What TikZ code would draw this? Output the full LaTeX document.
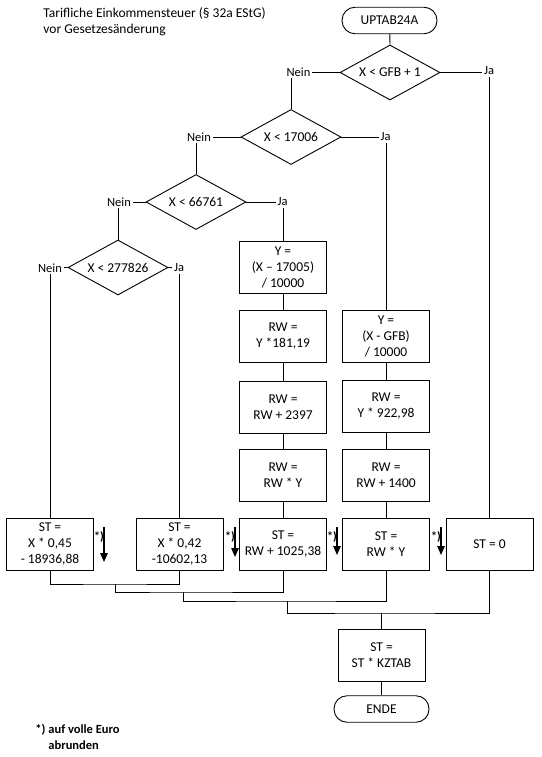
\documentclass[tikz,border=0pt]{standalone}
\usepackage{fontspec}
\setmainfont{Carlito}
\usetikzlibrary{shapes.geometric,arrows.meta}
\begin{document}
\begin{tikzpicture}[x=1pt,y=-1pt,line width=0.9pt,
  box/.style={draw,rectangle,minimum width=87pt,minimum height=52pt,inner sep=0pt,align=center,font=\fontsize{13.5}{16}\selectfont},
  term/.style={draw,rectangle,rounded corners=13pt,minimum width=95pt,minimum height=26.5pt,inner sep=0pt,font=\fontsize{13.5}{16}\selectfont},
  dec/.style={draw,diamond,aspect=1.82,minimum width=100pt,minimum height=55pt,inner sep=0pt,font=\fontsize{13.5}{16}\selectfont},
  lbl/.style={inner sep=1.5pt,font=\fontsize{12.5}{14}\selectfont},
  star/.style={inner sep=0pt,font=\fontsize{12}{13}\selectfont\bfseries},
  rarrow/.style={-{Triangle[length=9pt,width=7.5pt]},line width=1.1pt},
  txt/.style={inner sep=0pt,anchor=west,align=left,font=\fontsize{13.5}{16}\selectfont},
  fn/.style={inner sep=0pt,anchor=west,font=\fontsize{12.5}{15}\selectfont\bfseries}
]
\useasboundingbox (0,0) rectangle (541,757);

% title
\node[txt] (title) at (43,22) {Tarifliche Einkommensteuer (§ 32a EStG)\\vor Gesetzesänderung};

% terminals and decisions
\node[term] (start) at (389.5,20.5) {UPTAB24A};
\node[dec] (d1) at (390,72.5) {X < GFB + 1};
\node[dec] (d2) at (291,137) {X < 17006};
\node[dec] (d3) at (196,202) {X < 66761};
\node[dec] (d4) at (118,267.5) {X < 277826};

% labels
\node[lbl] (na1) at (298.5,72) {Nein};
\node[lbl] (ja1) at (489,71) {Ja};
\node[lbl] (na2) at (199,137) {Nein};
\node[lbl] (ja2) at (385.5,137) {Ja};
\node[lbl] (na3) at (119,202) {Nein};
\node[lbl] (ja3) at (282.5,202) {Ja};
\node[lbl] (na4) at (50,268) {Nein};
\node[lbl] (ja4) at (179,268) {Ja};

% process boxes
\node[box] (y1) at (283,267.5) {Y =\\(X – 17005)\\/ 10000};
\node[box] (rw1) at (283,336.5) {RW =\\Y *181,19};
\node[box] (rw2) at (283,407) {RW =\\RW + 2397};
\node[box] (rw3) at (283,475) {RW =\\RW * Y};
\node[box] (y2) at (386,336.5) {Y =\\(X - GFB)\\/ 10000};
\node[box] (rw4) at (386,406) {RW =\\Y * 922,98};
\node[box] (rw5) at (386,475) {RW =\\RW + 1400};

\node[box] (st1) at (50,544) {ST =\\X * 0,45\\- 18936,88};
\node[box] (st2) at (179.5,544) {ST =\\X * 0,42\\-10602,13};
\node[box] (st3) at (283,544) {ST =\\RW + 1025,38};
\node[box] (st4) at (386,544) {ST =\\RW * Y};
\node[box] (st5) at (489.5,544) {ST = 0};

\node[box] (kz) at (381.5,655) {ST =\\ST * KZTAB};
\node[term] (ende) at (381.5,709) {ENDE};

% rounding marks
\node[star] (s1) at (99,537) {*)};
\node[star] (s2) at (230,537) {*)};
\node[star] (s3) at (332,537) {*)};
\node[star] (s4) at (436,537) {*)};
\coordinate (a1t) at (104,527); \coordinate (a1b) at (104,562);
\coordinate (a2t) at (235,527); \coordinate (a2b) at (235,557);
\coordinate (a3t) at (337,527); \coordinate (a3b) at (337,555);
\coordinate (a4t) at (441,527); \coordinate (a4b) at (441,555);
\draw[rarrow] (a1t) -- (a1b);
\draw[rarrow] (a2t) -- (a2b);
\draw[rarrow] (a3t) -- (a3b);
\draw[rarrow] (a4t) -- (a4b);

% footnote
\node[fn] (fn1) at (35,730) {*) auf volle Euro};
\node[fn] (fn2) at (48,745) {abrunden};

% connectors
\draw (start) -- (d1.north);
\draw (d1.west) -- (d1.west -| na1.east);
\draw (na1.south -| d2.north) -- (d2.north);
\draw (d1.east) -- (d1.east -| ja1.west);
\draw (ja1.south -| st5.north) -- (st5.north);

\draw (d2.west) -- (d2.west -| na2.east);
\draw (na2.south -| d3.north) -- (d3.north);
\draw (d2.east) -- (d2.east -| ja2.west);
\draw (ja2.south -| y2.north) -- (y2.north);

\draw (d3.west) -- (d3.west -| na3.east);
\draw (na3.south -| d4.north) -- (d4.north);
\draw (d3.east) -- (d3.east -| ja3.west);
\draw (ja3.south -| y1.north) -- (y1.north);

\draw (d4.west) -- (d4.west -| na4.east);
\draw (na4.south -| st1.north) -- (st1.north);
\draw (d4.east) -- (d4.east -| ja4.west);
\draw (ja4.south -| st2.north) -- (st2.north);

\draw (y1) -- (rw1) -- (rw2) -- (rw3) -- (st3);
\draw (y2) -- (rw4) -- (rw5) -- (st4);

\coordinate (jn1) at (115,584);
\coordinate (jn2) at (183,592);
\coordinate (jn3) at (287,601);
\coordinate (jn4) at (381.5,613);
\draw (st1.south) |- (jn1) -| (st2.south);
\draw (jn1) |- (jn2) -| (st3.south);
\draw (jn2) |- (jn3) -| (st4.south);
\draw (jn3) |- (jn4) -| (st5.south);
\draw (jn4) -- (kz.north);
\draw (kz) -- (ende);
\end{tikzpicture}
\end{document}
